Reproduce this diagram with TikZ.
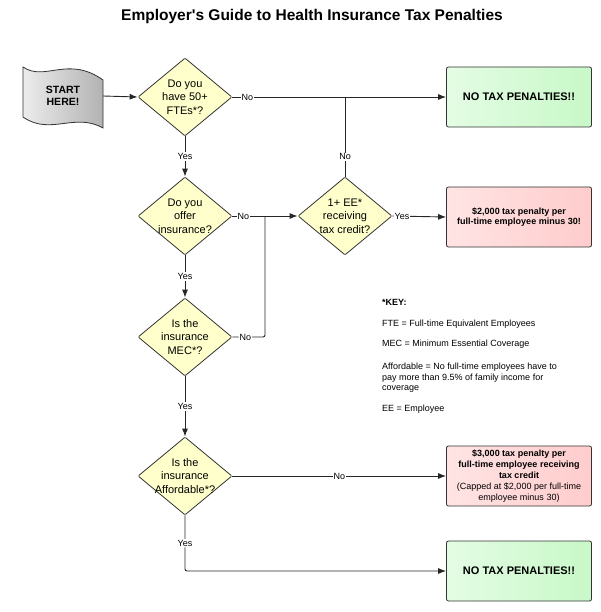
\documentclass[tikz,border=0pt]{standalone}
\usepackage{fontspec}
\setmainfont{Liberation Sans}[Ligatures=TeXOff]
\usetikzlibrary{arrows.meta,shapes.geometric}
\definecolor{qfill}{HTML}{FFFFCC}
\definecolor{okleft}{HTML}{E4FCE4}
\definecolor{okright}{HTML}{C8F8C8}
\definecolor{penleft}{HTML}{FFE4E4}
\definecolor{penright}{HTML}{FFCCCC}

\begin{document}
\begin{tikzpicture}[x=1pt,y=-1pt,>={Latex[length=8pt,width=6pt]}]
\tikzset{decision/.style={diamond,draw=black!80,fill=qfill,line width=0.8pt,rounded corners=1pt,minimum width=94pt,minimum height=78pt,inner sep=0pt,label={[font=\fontsize{11}{13.3}\selectfont,align=center]center:#1}},
outcome/.style={draw=black!80,line width=0.8pt,rounded corners=2pt,minimum width=145pt,minimum height=60pt,align=center},
nopenalty/.style={outcome,left color=okleft,right color=okright,font=\bfseries\fontsize{11}{13}\selectfont},
penalty/.style={outcome,left color=penleft,right color=penright,font=\fontsize{9}{10.8}\selectfont},
flow/.style={line width=0.9pt,draw=black!85},
answer/.style={fill=white,inner sep=1pt,font=\fontsize{9}{10}\selectfont}}
\useasboundingbox (0,0) rectangle (600,612);
\node[font=\bfseries\fontsize{15.5}{18}\selectfont] (title) at (312,16) {Employer's Guide to Health Insurance Tax Penalties};
% start banner
\draw[draw=black!80,line width=0.8pt,left color=gray!15,right color=gray!60] (23,67) .. controls (45,82) and (68,55) .. (103,80) -- (103,128) .. controls (75,112) and (50,136) .. (23,117) -- cycle;
\node[minimum width=80pt,font=\bfseries\fontsize{10.5}{12.5}\selectfont,align=center] (start) at (63,96) {START\\HERE!};
% questions
\node[decision={Do you\\have 50+\\FTEs*?}] (q1) at (185,97) {};
\node[decision={Do you\\offer\\insurance?}] (q2) at (185,216) {};
\node[decision={Is the\\insurance\\MEC*?}] (q3) at (185,337) {};
\node[decision={Is the\\insurance\\Affordable*?}] (q4) at (185,476) {};
\node[decision={1+ EE*\\receiving\\tax credit?}] (q5) at (345,216) {};
% outcomes
\node[nopenalty] (g1) at (519,97) {NO TAX PENALTIES!!};
\node[penalty] (r1) at (519,217) {\textbf{\$2,000 tax penalty per}\\\textbf{full-time employee minus 30!}};
\node[penalty] (r2) at (519,476) {\textbf{\$3,000 tax penalty per}\\\textbf{full-time employee receiving}\\\textbf{tax credit}\\(Capped at \$2,000 per full-time\\employee minus 30)};
\node[nopenalty] (g2) at (519,571) {NO TAX PENALTIES!!};
% key
\node[anchor=north west,inner sep=0pt,align=left,font=\fontsize{9}{10.5}\selectfont] (key) at (382,299) {\textbf{*KEY:}\\[11pt]FTE = Full-time Equivalent Employees\\[9.5pt]MEC = Minimum Essential Coverage\\[12.5pt]Affordable = No full-time employees have to\\pay more than 9.5\% of family income for\\coverage\\[10.5pt]EE = Employee};
% connectors
\coordinate (j1) at (265,216);
\coordinate (j2) at (345,97);
\draw[flow,->] (start.east) -- (q1.west);
\draw[flow,->] (q1.east) -- node[answer,pos=0.07]{No} (g1.west);
\draw[flow,->] (q1.south) -- node[answer]{Yes} (q2.north);
\draw[flow,->] (q2.east) -- node[answer,pos=0.17]{No} (q5.west);
\draw[flow,rounded corners=2pt] (q3.east) -| node[answer,pos=0.2]{No} (j1);
\draw[flow] (q5.north) -- node[answer,pos=0.25]{No} (j2);
\draw[flow,->] (q5.east) -- node[answer,pos=0.18]{Yes} (r1.west);
\draw[flow,->] (q2.south) -- node[answer]{Yes} (q3.north);
\draw[flow,->] (q3.south) -- node[answer]{Yes} (q4.north);
\draw[flow,->] (q4.east) -- node[answer]{No} (r2.west);
\draw[flow,->,rounded corners=2pt] (q4.south) |- node[answer,pos=0.25]{Yes} (g2.west);
\end{tikzpicture}
\end{document}
